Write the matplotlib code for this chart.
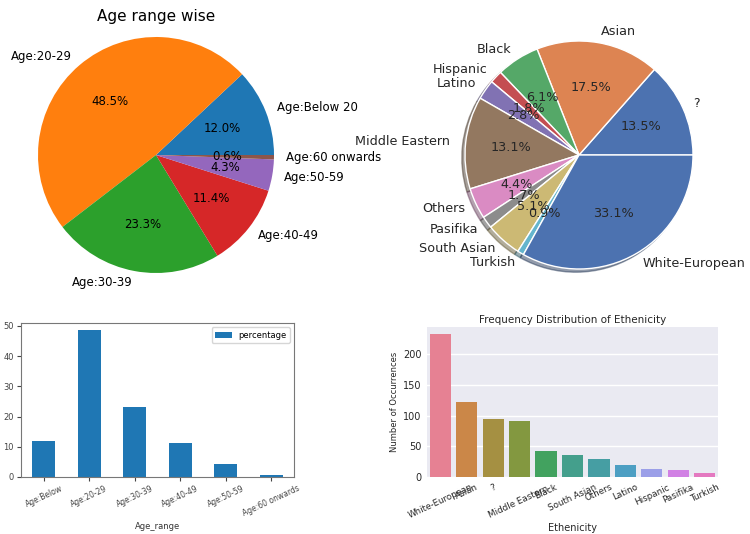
# Age range / ethnicity overview: two pies on top, two bar charts below

import matplotlib.pyplot as plt
import seaborn as sns

age_labels = ["Age:Below 20", "Age:20-29", "Age:30-39", "Age:40-49",
              "Age:50-59", "Age:60 onwards"]
age_pct = [12.0, 48.5, 23.3, 11.4, 4.3, 0.6]
age_ticks = ["Age:Below", "Age:20-29", "Age:30-39", "Age:40-49",
             "Age:50-59", "Age:60 onwards"]

eth_pie_labels = ["?", "Asian", "Black", "Hispanic", "Latino", "Middle Eastern ",
                  "Others", "Pasifika", "South Asian", "Turkish", "White-European"]
eth_pie_pct = [13.5, 17.5, 6.1, 1.8, 2.8, 13.1, 4.4, 1.7, 5.1, 0.9, 33.1]

eth_bar_labels = ["White-European", "Asian", "?", "Middle Eastern ", "Black",
                  "South Asian", "Others", "Latino", "Hispanic", "Pasifika", "Turkish"]
eth_counts = [233, 123, 95, 92, 43, 36, 30, 20, 13, 12, 6]

W, H = 750, 534
fig = plt.figure(figsize=(7.5, 5.34), dpi=100)


def box(left, top, width, height):
    # pixel box (from top-left) -> figure fraction
    return [left / W, (H - top - height) / H, width / W, height / H]


# top left pie
ax1 = fig.add_axes(box(8.5, 7.5, 295, 295))
ax1.pie(age_pct, labels=age_labels, autopct="%1.1f%%",
        textprops={"fontsize": 8.5})
ax1.set_aspect("equal")
ax1.set_title("Age range wise", fontsize=11, y=0.955, pad=0)

# top right pie (seaborn look)
deep = sns.color_palette("deep", 10)
pie_cols = [deep[i % 10] for i in range(len(eth_pie_pct))]
ax2 = fig.add_axes(box(436.5, 12.5, 285, 285))
ax2.pie(eth_pie_pct, labels=eth_pie_labels, autopct="%1.1f%%", colors=pie_cols,
        shadow={"ox": -0.02, "oy": -0.02, "shade": 0.5},
        wedgeprops={"edgecolor": "white", "linewidth": 1},
        textprops={"fontsize": 9.2, "color": "0.15"})
ax2.set_aspect("equal")

# bottom left: pandas-like bar chart
ax3 = fig.add_axes(box(21, 323, 273, 154))
x = range(len(age_pct))
ax3.bar(x, age_pct, width=0.5, color="#1f77b4", label="percentage")
ax3.set_xlim(-0.5, len(age_pct) - 0.5)
ax3.set_xticks(list(x))
ax3.set_xticklabels(age_ticks, rotation=25, fontsize=5.5)
ax3.tick_params(axis="y", labelsize=6)
ax3.tick_params(colors="#444444", length=3, pad=2)
for s in ax3.spines.values():
    s.set_color("#777777")
ax3.set_xlabel("Age_range", fontsize=6, color="#333333", labelpad=3)
ax3.legend(loc="upper right", fontsize=6)

# bottom right: seaborn bar chart
pal = [sns.desaturate(c, 0.75) for c in sns.color_palette("husl", len(eth_counts))]
ax4 = fig.add_axes(box(427, 327, 291, 150))
ax4.set_facecolor("#EAEAF2")
ax4.set_axisbelow(True)
ax4.grid(axis="y", color="white", linewidth=1)
ax4.bar(range(len(eth_counts)), eth_counts, width=0.8, color=pal)
ax4.set_xlim(-0.5, len(eth_counts) - 0.5)
ax4.set_ylim(0, max(eth_counts) * 1.05)
ax4.set_xticks(range(len(eth_counts)))
ax4.set_xticklabels(eth_bar_labels, rotation=25, fontsize=6.3, color="0.15")
ax4.set_yticks([0, 50, 100, 150, 200])
ax4.tick_params(axis="y", labelsize=7, labelcolor="0.15")
ax4.tick_params(length=0, pad=4)
for s in ax4.spines.values():
    s.set_visible(False)
ax4.set_title("Frequency Distribution of Ethenicity", fontsize=7.5, color="0.15", pad=3)
ax4.set_ylabel("Number of Occurrences", fontsize=6, color="0.15", labelpad=3)
ax4.set_xlabel("Ethenicity", fontsize=7, color="0.15", labelpad=2)

fig.savefig("out.png", dpi=100)
